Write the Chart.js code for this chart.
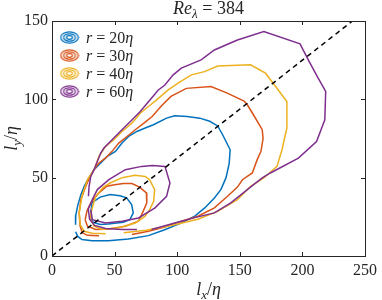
<!DOCTYPE html>
<html>
<head>
<meta charset="utf-8">
<script src="https://cdn.jsdelivr.net/npm/chart.js@4.4.0/dist/chart.umd.min.js"></script>
<style>
  html, body { margin: 0; padding: 0; background: #fff; }
</style>
</head>
<body>
<canvas id="grafico" width="382" height="300"></canvas>
<script>
// valori (lx/eta, ly/eta)
var xTicks = [0, 50, 100, 150, 200, 250];
var yTicks = [0, 50, 100, 150];
var rValori = ['20', '30', '40', '60'];
var colori = ['#0072BD', '#D95319', '#EDB120', '#7E2F8E'];

var r20Esterno = [[18.9,15.5],[20.5,12.5],[24,10.5],[32,9.8],[45,9.8],[61,10.8],[77,13],[90,16.8],[103,21],[114,25.5],[122,30.7],[129.7,37],[135,42.5],[139,50],[141.5,59],[142.3,67.8],[136.3,77.4],[132.3,83],[126,86],[118,88],[108,89],[98,89.5],[91.5,88],[81,83.8],[74.4,81.7],[67.8,79.5],[61.2,76.3],[55.9,72.1],[50.7,66.8],[44.1,63.6],[38.9,59.4],[33.6,55.1],[29.5,50],[26,45],[23,39],[20.5,32],[19,26],[18.8,20]];
var r20Interno = [[31,28],[32,34],[38.5,37.6],[46.4,39.2],[54.3,38.5],[59.6,37.1],[63.6,32.8],[64.9,27.5],[62.2,23.2],[57,21.5],[51.7,21.1],[45,20.5],[38.5,20.1],[33,21.5],[30.5,24.5],[31,28]];
var r30Esterno = [[63.8,13.7],[77,15.8],[90,18.5],[100.7,21.5],[116.5,25.4],[129.7,30.7],[140.2,38.1],[148.1,44],[152.1,48.7],[160,53],[163.9,61.5],[166.9,66.8],[168.6,75],[167.9,80.6],[161,90],[156,96.5],[153.4,98.9],[140,104],[127,108.2],[107.3,107],[95,101.9],[87.5,95.9],[80,89],[74.4,85.5],[66.5,80.6],[59.9,76.3],[53.3,72.1],[48,66.8],[42.8,62.6],[37.5,59.4],[33.6,55.1],[30,50],[27,44.5],[23.1,36],[21.7,27.5],[22.5,19],[24.3,14.8],[28.3,13.2],[37.5,13]];
var r30Interno = [[26.5,23.2],[28,29],[31,33.9],[37.5,40.3],[43.8,44.5],[50,45.5],[57,46.2],[63.8,46.2],[70,44],[75.4,40.3],[75.7,33.9],[72.8,28.5],[69.1,22.2],[58.6,19],[45.4,17.3],[34.9,16.9],[28.3,19],[26.5,23.2]];
var r40Esterno = [[57.3,14.8],[75,16.5],[95.4,19.5],[116.5,23.5],[132.3,28.5],[148.1,36],[158.6,44.5],[169.2,49.8],[179.7,57.2],[183.7,67.8],[187.6,81.7],[187.6,98.6],[179.7,107.1],[170.5,116.7],[158.6,122],[148.1,121.8],[132.3,121.3],[121.8,117.7],[111.3,115.6],[100.7,110.3],[92.8,106],[83.6,99.7],[77,95.4],[70.5,91.1],[63.8,84.8],[55.9,79.5],[49.4,74.2],[42.8,70],[37.5,63.6],[33.6,55.1],[28.3,48.7],[23.9,38.1],[21.7,27.5],[22.5,20.1],[25.7,15.8],[32.2,14.5],[42.8,14.2]];
var r40Interno = [[31,23.2],[31,27.5],[34.9,38.1],[41,44],[46.4,46.6],[56,50],[66.2,51.5],[74.4,50.8],[78,48.7],[82,42.4],[81.2,34.9],[78,29.6],[74.4,25.4],[66.5,21.1],[53.3,18],[40.1,16.9],[33.6,19],[31,23.2]];
var r60Esterno = [[79.6,16.9],[98.1,21.1],[114,24.5],[129.7,27.5],[142.8,33.9],[156,42.4],[167.9,49.8],[174.4,53],[196.8,62.5],[211.3,73.1],[217.9,86.9],[218.6,105],[212.6,113.5],[204.7,125.2],[198.1,135.4],[169.2,143.2],[148.1,137.9],[129.7,131.5],[119.1,125.2],[103.3,119.9],[96.8,115.6],[90,109],[84.9,106],[78.4,99.7],[70.5,92.2],[62.6,85.9],[55.9,80.6],[48,74.2],[41.5,68.9],[38.9,65.7],[33.6,55.1],[31,50.8],[29.6,44.5],[29.1,38.1]];
var r60Interno = [[67.8,16.9],[55.9,16.9],[42.8,17.5],[34,19.5],[30,23.5],[29,30],[32.2,36],[36.2,42.4],[45.4,48.7],[58.6,55.1],[71.7,57.2],[80,57.8],[90.2,57.2],[94.2,46.6],[91.5,38.1],[82.3,30.7],[69.1,24.3],[55.9,22.2],[42.8,21.1],[32.2,23.2],[31,29.6]];
var diagonale = [[0,0],[240,150]];

var contorni = [
  [r20Esterno, r20Interno],
  [r30Esterno, r30Interno],
  [r40Esterno, r40Interno],
  [r60Esterno, r60Interno]
];

var testoColore = '#262626';
var serif = '"Liberation Serif", "DejaVu Serif", serif';

function punti(arr) {
  return arr.map(function(p) { return {x: p[0], y: p[1]}; });
}

function creaIcona(colore) {
  var c = document.createElement('canvas');
  c.width = 20; c.height = 13;
  var g = c.getContext('2d');
  g.strokeStyle = colore;
  g.lineWidth = 1.3;
  [[8.8,5.6],[5.9,3.7],[3,1.8]].forEach(function(r) {
    g.beginPath();
    g.ellipse(10, 6.5, r[0], r[1], 0, 0, 2 * Math.PI);
    g.stroke();
  });
  return c;
}

// testo con corsivo e pedici: parti = [testo, corsivo, pedice]
function scriviRich(ctx, parti, x, y, size, align) {
  var fontDi = function(p) {
    var s = p[2] ? Math.round(size * 0.7) : size;
    return (p[1] ? 'italic ' : '') + s + 'px ' + serif;
  };
  var tot = 0;
  var larg = parti.map(function(p) {
    ctx.font = fontDi(p);
    var w = ctx.measureText(p[0]).width;
    tot += w;
    return w;
  });
  var cx = align === 'center' ? x - tot / 2 : x;
  ctx.textBaseline = 'alphabetic';
  ctx.textAlign = 'left';
  ctx.fillStyle = testoColore;
  parti.forEach(function(p, i) {
    ctx.font = fontDi(p);
    ctx.fillText(p[0], cx, y + (p[2] ? size * 0.22 : 0));
    cx += larg[i];
  });
}

var datasets = [];
contorni.forEach(function(c, i) {
  var icona = creaIcona(colori[i]);
  c.forEach(function(linea, j) {
    datasets.push({
      label: 'r = ' + rValori[i] + 'η',
      data: punti(linea),
      borderColor: colori[i],
      backgroundColor: colori[i],
      borderWidth: 1.5,
      showLine: true,
      pointRadius: 0,
      pointStyle: icona,
      tension: 0,
      order: 5 - i,
      inLegenda: j === 0
    });
  });
});
datasets.push({
  label: 'diagonale',
  data: punti(diagonale),
  borderColor: '#000',
  borderWidth: 1.5,
  borderDash: [5, 4],
  showLine: true,
  pointRadius: 0,
  order: 0,
  inLegenda: false
});

var decorazioni = {
  id: 'decorazioni',
  afterLayout: function(chart) {
    var lg = chart.legend, a = chart.chartArea;
    var h = lg.bottom - lg.top;
    lg.left = a.left + 5;
    lg.top = a.top + 6;
    lg.bottom = lg.top + h;
  },
  afterDatasetsDraw: function(chart) {
    var ctx = chart.ctx, a = chart.chartArea;
    var sx = chart.scales.x, sy = chart.scales.y;
    ctx.save();
    ctx.strokeStyle = testoColore;
    ctx.lineWidth = 1;
    ctx.beginPath();
    xTicks.forEach(function(v) {
      var px = Math.round(sx.getPixelForValue(v)) + 0.5;
      ctx.moveTo(px, a.bottom); ctx.lineTo(px, a.bottom - 4);
      ctx.moveTo(px, a.top); ctx.lineTo(px, a.top + 4);
    });
    yTicks.forEach(function(v) {
      var py = Math.round(sy.getPixelForValue(v)) + 0.5;
      ctx.moveTo(a.left, py); ctx.lineTo(a.left + 4, py);
      ctx.moveTo(a.right, py); ctx.lineTo(a.right - 4, py);
    });
    ctx.stroke();
    ctx.strokeRect(Math.round(a.left) + 0.5, Math.round(a.top) + 0.5, Math.round(a.right - a.left), Math.round(a.bottom - a.top));
    ctx.restore();
  },
  afterDraw: function(chart) {
    var ctx = chart.ctx, a = chart.chartArea;
    ctx.save();
    var cx = (a.left + a.right) / 2;
    scriviRich(ctx, [['Re', true, false], ['λ', true, true], [' = 384', false, false]], cx, 14, 18, 'center');
    scriviRich(ctx, [['l', true, false], ['x', true, true], ['/', false, false], ['η', true, false]], cx, 295, 18, 'center');
    ctx.translate(17, (a.top + a.bottom) / 2);
    ctx.rotate(-Math.PI / 2);
    scriviRich(ctx, [['l', true, false], ['y', true, true], ['/', false, false], ['η', true, false]], 0, 0, 18, 'center');
    ctx.restore();
    // testi della legenda
    var pad = 3, alt = 15;
    var top = a.top + 6;
    ctx.save();
    rValori.forEach(function(v, i) {
      var y = top + pad + i * (alt + pad) + alt / 2 + 5;
      scriviRich(ctx, [['r', true, false], [' = ' + v, false, false], ['η', true, false]], 86, y, 16, 'left');
    });
    ctx.restore();
  }
};

new Chart(document.getElementById('grafico'), {
  type: 'scatter',
  data: { datasets: datasets },
  options: {
    responsive: false,
    animation: false,
    devicePixelRatio: 1,
    layout: { padding: { top: 21, right: 13, left: 0, bottom: 0 } },
    scales: {
      x: {
        type: 'linear', min: 0, max: 250,
        afterBuildTicks: function(s) { s.ticks = xTicks.map(function(v) { return {value: v}; }); },
        afterFit: function(s) { s.height = 44; },
        grid: { display: false, drawTicks: false },
        border: { display: false },
        ticks: { padding: 5, color: testoColore, font: { family: serif, size: 16 } }
      },
      y: {
        type: 'linear', min: 0, max: 150,
        afterBuildTicks: function(s) { s.ticks = yTicks.map(function(v) { return {value: v}; }); },
        afterFit: function(s) { s.width = 52; },
        grid: { display: false, drawTicks: false },
        border: { display: false },
        ticks: { padding: 4, color: testoColore, font: { family: serif, size: 16 } }
      }
    },
    plugins: {
      legend: {
        position: 'chartArea',
        align: 'start',
        labels: {
          usePointStyle: true,
          pointStyleWidth: 19,
          boxHeight: 12,
          padding: 3,
          color: 'rgba(0,0,0,0)',
          font: { family: serif, size: 15 },
          filter: function(item, data) { return data.datasets[item.datasetIndex].inLegenda; },
          sort: function(a, b) { return a.datasetIndex - b.datasetIndex; }
        }
      },
      tooltip: { enabled: false },
      title: { display: false }
    }
  },
  plugins: [decorazioni]
});
</script>
</body>
</html>
